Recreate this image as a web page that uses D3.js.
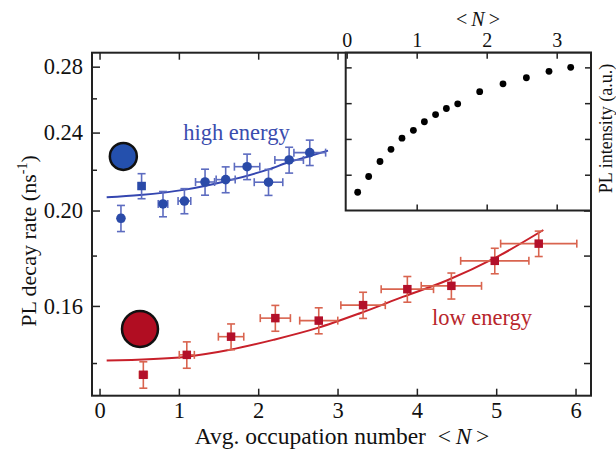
<!DOCTYPE html>
<html>
<head>
<meta charset="utf-8">
<script src="https://cdn.jsdelivr.net/npm/d3@7"></script>
<style>
body {margin: 0; background: #fff}
svg {display: block; font-family: "Liberation Serif", "Times New Roman", serif}
</style>
</head>
<body>
<svg id="chart"></svg>
<script>
// high energy peak
var highN = [0.27, 0.53, 0.80, 1.07, 1.33, 1.59, 1.86, 2.13, 2.39, 2.65]
var highRate = [0.1964, 0.2118, 0.2031, 0.2045, 0.2138, 0.2150, 0.2216, 0.2137, 0.2251, 0.2290]
var highNErr = [0.03, 0.04, 0.06, 0.08, 0.12, 0.12, 0.16, 0.18, 0.18, 0.20]
var highRateErr = [0.006, 0.0062, 0.006, 0.006, 0.0065, 0.0065, 0.0066, 0.0065, 0.0068, 0.0068]
var highShape = ["circle", "square", "circle", "circle", "circle", "circle", "circle", "circle", "circle", "circle"]
var highFitN = [0.09, 0.51, 1.06, 1.59, 2.13, 2.39, 2.65, 2.88]
var highFitRate = [0.2063, 0.2074, 0.2099, 0.2142, 0.2202, 0.2240, 0.2272, 0.2301]

// low energy peak
var lowN = [0.552, 1.10, 1.658, 2.216, 2.763, 3.322, 3.88, 4.435, 4.982, 5.536]
var lowRate = [0.1362, 0.1427, 0.1489, 0.1555, 0.1546, 0.1603, 0.1664, 0.1677, 0.1778, 0.1851]
var lowNErr = [0.05, 0.095, 0.16, 0.19, 0.24, 0.28, 0.33, 0.38, 0.43, 0.48]
var lowRateErr = [0.0042, 0.0044, 0.0045, 0.0047, 0.0047, 0.0049, 0.005, 0.0051, 0.0053, 0.0055]
var lowFitN = [0.09, 1.10, 1.645, 2.19, 2.74, 3.284, 3.83, 4.377, 4.98, 5.594]
var lowFitRate = [0.1408, 0.1421, 0.1444, 0.1478, 0.1519, 0.1573, 0.1635, 0.1698, 0.1789, 0.1911]

// inset: PL intensity vs <N>
var insetN = [0.157, 0.314, 0.476, 0.633, 0.79, 0.953, 1.11, 1.27, 1.424, 1.586, 1.9, 2.233, 2.567, 2.89, 3.2]
var insetPL = [0.51, 0.95, 1.37, 1.71, 2.02, 2.24, 2.48, 2.68, 2.85, 2.98, 3.32, 3.54, 3.71, 3.89, 4.0]

// ticks
var xTicks = [0, 1, 2, 3, 4, 5, 6]
var yMajor = [0.16, 0.20, 0.24, 0.28]
var yMinor = [0.14, 0.18, 0.22, 0.26]
var insetXTicks = [0, 1, 2, 3]
var insetYTicks = [1, 2, 3, 4]

// dot size icons and labels
var iconN = [0.30, 0.51]
var iconRate = [0.2270, 0.1516]
var iconR = [13.5, 18]
var labelText = ["high energy", "low energy"]
var labelN = [1.055, 4.19]
var labelRate = [0.2359, 0.1531]

var blue = "#2a4aa8", blueErr = "#5d6cc0", blueLine = "#3446b0"
var red = "#b3102a", redErr = "#d9644f", redLine = "#c8202a"
var ink = "#222"

var dimensions = {width: 616, height: 449}
var frame = {left: 92, right: 591, top: 52.7, bottom: 395.7}
var inset = {left: 345.7, right: 591, top: 52.7, bottom: 210.5}

var svg = d3.select("#chart")
    .attr("width", dimensions.width)
    .attr("height", dimensions.height)

var xScale = d3.scaleLinear()
    .domain([-0.095, 6.195])
    .range([frame.left, frame.right])

var yScale = d3.scaleLog()
    .domain([0.1297, 0.2893])
    .range([frame.bottom, frame.top])

var ixScale = d3.scaleLinear()
    .domain([-0.014, 3.49])
    .range([inset.left, inset.right])

var iyScale = d3.scaleLinear()
    .domain([0, 4.41])
    .range([inset.bottom, inset.top])

function styleAxis(g) {
    g.select(".domain").remove()
    g.selectAll("line").attr("stroke", ink).attr("stroke-width", 1.5)
    g.selectAll("text").attr("fill", "#111").attr("font-family", "Liberation Serif").attr("font-size", 22.5)
}

// main axes, ticks pointing inward
svg.append("g")
    .attr("transform", "translate(0," + frame.bottom + ")")
    .call(d3.axisBottom(xScale).tickValues(xTicks).tickSize(-7).tickPadding(6.5).tickFormat(d3.format("d")))
    .call(styleAxis)

svg.append("g")
    .attr("transform", "translate(0," + frame.top + ")")
    .call(d3.axisTop(xScale).tickValues(xTicks).tickSize(-7).tickFormat(""))
    .call(styleAxis)

svg.append("g")
    .attr("transform", "translate(" + frame.left + ",0)")
    .call(d3.axisLeft(yScale).tickValues(yMajor).tickSize(-8).tickPadding(9).tickFormat(d3.format(".2f")))
    .call(styleAxis)

svg.append("g")
    .attr("transform", "translate(" + frame.left + ",0)")
    .call(d3.axisLeft(yScale).tickValues(yMinor).tickSize(-5).tickFormat(""))
    .call(styleAxis)

svg.append("g")
    .attr("transform", "translate(" + frame.right + ",0)")
    .call(d3.axisRight(yScale).tickValues(yMajor.concat(yMinor)).tickSize(-7).tickFormat(""))
    .call(styleAxis)

svg.append("rect")
    .attr("x", frame.left)
    .attr("y", frame.top)
    .attr("width", frame.right - frame.left)
    .attr("height", frame.bottom - frame.top)
    .attr("fill", "none")
    .attr("stroke", ink)
    .attr("stroke-width", 2)

// fit curves
var line = d3.line()
    .x(d => xScale(d[0]))
    .y(d => yScale(d[1]))
    .curve(d3.curveMonotoneX)

svg.append("path")
    .attr("d", line(d3.zip(highFitN, highFitRate)))
    .attr("fill", "none")
    .attr("stroke", blueLine)
    .attr("stroke-width", 2)

svg.append("path")
    .attr("d", line(d3.zip(lowFitN, lowFitRate)))
    .attr("fill", "none")
    .attr("stroke", redLine)
    .attr("stroke-width", 2)

// error bars and markers
function drawSeries(ns, rates, nErr, rErr, shapes, color, errColor) {
    var pts = ns.map((n, i) => ({n: n, r: rates[i], dn: nErr[i], dr: rErr[i], shape: shapes ? shapes[i] : "square"}))
    var g = svg.append("g")
    var cap = 4

    var eb = g.selectAll(".err")
        .data(pts)
        .enter()
        .append("g")
        .attr("stroke", errColor)
        .attr("stroke-width", 1.6)

    eb.append("line")
        .attr("x1", d => xScale(d.n)).attr("x2", d => xScale(d.n))
        .attr("y1", d => yScale(d.r - d.dr)).attr("y2", d => yScale(d.r + d.dr))
    eb.append("line")
        .attr("x1", d => xScale(d.n) - cap).attr("x2", d => xScale(d.n) + cap)
        .attr("y1", d => yScale(d.r - d.dr)).attr("y2", d => yScale(d.r - d.dr))
    eb.append("line")
        .attr("x1", d => xScale(d.n) - cap).attr("x2", d => xScale(d.n) + cap)
        .attr("y1", d => yScale(d.r + d.dr)).attr("y2", d => yScale(d.r + d.dr))
    eb.append("line")
        .attr("x1", d => xScale(d.n - d.dn)).attr("x2", d => xScale(d.n + d.dn))
        .attr("y1", d => yScale(d.r)).attr("y2", d => yScale(d.r))
    eb.append("line")
        .attr("x1", d => xScale(d.n - d.dn)).attr("x2", d => xScale(d.n - d.dn))
        .attr("y1", d => yScale(d.r) - cap).attr("y2", d => yScale(d.r) + cap)
    eb.append("line")
        .attr("x1", d => xScale(d.n + d.dn)).attr("x2", d => xScale(d.n + d.dn))
        .attr("y1", d => yScale(d.r) - cap).attr("y2", d => yScale(d.r) + cap)

    g.selectAll(".mark")
        .data(pts)
        .enter()
        .append("path")
        .attr("transform", d => "translate(" + xScale(d.n) + "," + yScale(d.r) + ")")
        .attr("d", d => d.shape == "circle"
            ? d3.symbol(d3.symbolCircle, 72)()
            : d3.symbol(d3.symbolSquare, 72)())
        .attr("fill", color)
}

drawSeries(highN, highRate, highNErr, highRateErr, highShape, blue, blueErr)
drawSeries(lowN, lowRate, lowNErr, lowRateErr, null, red, redErr)

// dot icons
svg.selectAll(".icon")
    .data(iconN)
    .enter()
    .append("circle")
    .attr("cx", d => xScale(d))
    .attr("cy", (d, i) => yScale(iconRate[i]))
    .attr("r", (d, i) => iconR[i])
    .attr("fill", (d, i) => i == 0 ? "#2450ad" : "#b10d22")
    .attr("stroke", "#111")
    .attr("stroke-width", 2.5)

svg.selectAll(".label")
    .data(labelText)
    .enter()
    .append("text")
    .attr("x", (d, i) => xScale(labelN[i]))
    .attr("y", (d, i) => yScale(labelRate[i]))
    .attr("font-size", 22.5)
    .attr("fill", (d, i) => i == 0 ? "#3a4cae" : "#b8262c")
    .text(d => d)

// axis titles
var yTitle = svg.append("text")
    .attr("transform", "translate(36,241) rotate(-90)")
    .attr("text-anchor", "middle")
    .attr("font-size", 22)
    .attr("fill", "#111")
yTitle.append("tspan").text("PL decay rate (ns")
yTitle.append("tspan").attr("dy", -9).attr("font-size", 14).text("-1")
yTitle.append("tspan").attr("dy", 9).text(")")

var xTitle = svg.append("text")
    .attr("x", 342)
    .attr("y", 443.5)
    .attr("text-anchor", "middle")
    .attr("font-size", 23.5)
    .attr("fill", "#111")
xTitle.append("tspan").text("Avg. occupation number\u00a0\u00a0<\u2009")
xTitle.append("tspan").attr("font-style", "italic").text("N")
xTitle.append("tspan").text("\u2009>")

// inset
svg.append("rect")
    .attr("x", inset.left)
    .attr("y", inset.top)
    .attr("width", inset.right - inset.left)
    .attr("height", inset.bottom - inset.top)
    .attr("fill", "#fff")

svg.append("g")
    .attr("transform", "translate(0," + inset.top + ")")
    .call(d3.axisTop(ixScale).tickValues(insetXTicks).tickSize(-6).tickPadding(6).tickFormat(d3.format("d")))
    .call(styleAxis)
    .selectAll("text").attr("font-size", 20)

svg.append("g")
    .attr("transform", "translate(0," + inset.bottom + ")")
    .call(d3.axisBottom(ixScale).tickValues([1, 2, 3]).tickSize(-6).tickFormat(""))
    .call(styleAxis)

svg.append("g")
    .attr("transform", "translate(" + inset.left + ",0)")
    .call(d3.axisLeft(iyScale).tickValues(insetYTicks).tickSize(-6).tickFormat(""))
    .call(styleAxis)

svg.append("g")
    .attr("transform", "translate(" + inset.right + ",0)")
    .call(d3.axisRight(iyScale).tickValues(insetYTicks).tickSize(-6).tickFormat(""))
    .call(styleAxis)

svg.append("rect")
    .attr("x", inset.left)
    .attr("y", inset.top)
    .attr("width", inset.right - inset.left)
    .attr("height", inset.bottom - inset.top)
    .attr("fill", "none")
    .attr("stroke", ink)
    .attr("stroke-width", 2)

svg.selectAll(".insetdot")
    .data(insetN)
    .enter()
    .append("circle")
    .attr("cx", d => ixScale(d))
    .attr("cy", (d, i) => iyScale(insetPL[i]))
    .attr("r", 3.4)
    .attr("fill", "#000")

var insetTitle = svg.append("text")
    .attr("x", 478)
    .attr("y", 26)
    .attr("text-anchor", "middle")
    .attr("font-size", 20)
    .attr("fill", "#111")
insetTitle.append("tspan").text("<\u2009")
insetTitle.append("tspan").attr("font-style", "italic").text("N")
insetTitle.append("tspan").text("\u2009>")

svg.append("text")
    .attr("transform", "translate(612,128.5) rotate(-90)")
    .attr("text-anchor", "middle")
    .attr("font-size", 18)
    .attr("fill", "#111")
    .text("PL intensity (a.u.)")
</script>
</body>
</html>
